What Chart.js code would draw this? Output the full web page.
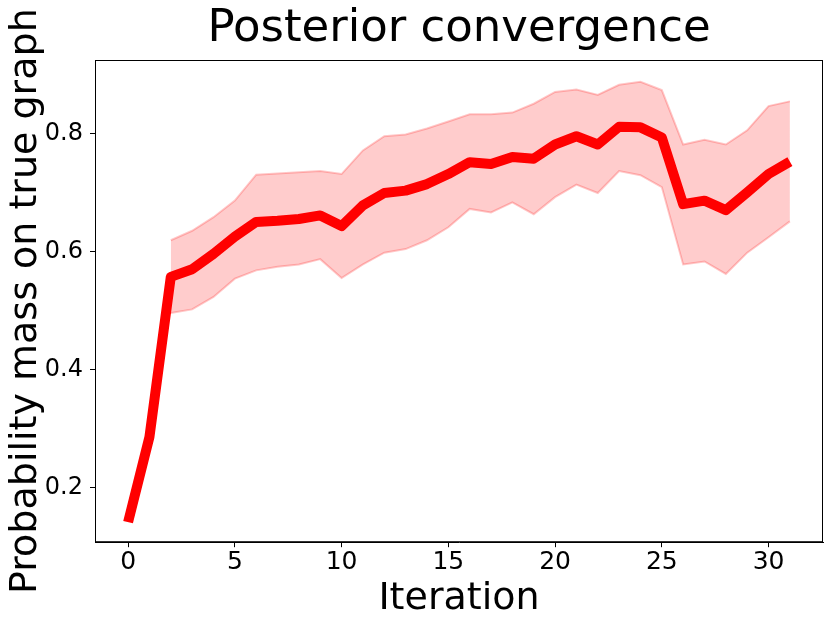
<!DOCTYPE html>
<html>
<head>
<meta charset="utf-8">
<script src="https://cdn.jsdelivr.net/npm/chart.js@4"></script>
<style>
html,body{margin:0;padding:0;background:#fff;}
#wrap{width:830px;height:620px;position:relative;}
</style>
</head>
<body>
<div id="wrap"><canvas id="c" width="830" height="620"></canvas></div>
<script>
const iterations = [0,1,2,3,4,5,6,7,8,9,10,11,12,13,14,15,16,17,18,19,20,21,22,23,24,25,26,27,28,29,30,31];
const meanMass = [0.142,0.286,0.557,0.570,0.596,0.625,0.650,0.652,0.655,0.661,0.643,0.678,0.699,0.703,0.714,0.731,0.751,0.748,0.760,0.757,0.781,0.795,0.781,0.811,0.810,0.793,0.680,0.686,0.670,0.700,0.731,0.752];
const upperMass = [null,null,0.619,0.635,0.658,0.686,0.730,0.732,0.734,0.736,0.731,0.771,0.795,0.798,0.808,0.820,0.832,0.832,0.835,0.850,0.870,0.874,0.865,0.882,0.887,0.873,0.781,0.789,0.781,0.805,0.846,0.854];
const lowerMass = [null,null,0.496,0.502,0.523,0.554,0.568,0.574,0.578,0.587,0.555,0.578,0.598,0.604,0.619,0.641,0.672,0.666,0.683,0.663,0.692,0.713,0.699,0.736,0.729,0.709,0.578,0.583,0.562,0.598,0.624,0.651];
const xTicks = [0,5,10,15,20,25,30];
const yTicks = [0.2,0.4,0.6,0.8];

const pts = a => iterations.map((x,i)=>({x:x,y:a[i]}));

const framePlugin = {
  id:'frame',
  afterDraw(chart){
    const {ctx, chartArea:a} = chart;
    ctx.save();
    ctx.strokeStyle = '#000';
    ctx.lineWidth = 1;
    ctx.strokeRect(a.left+0.5, a.top+0.5, a.right-a.left-1, a.bottom-a.top-1);
    ctx.restore();
  }
};

const font = 'DejaVu Sans';
new Chart(document.getElementById('c'), {
  type:'line',
  data:{
    datasets:[
      {label:'mean', data:pts(meanMass), borderColor:'#ff0000', borderWidth:10, pointRadius:0, fill:false, borderCapStyle:'butt', borderJoinStyle:'round', order:0},
      {label:'lower', data:pts(lowerMass), borderColor:'rgba(255,0,0,0.22)', borderWidth:2, pointRadius:0, fill:false, order:1, spanGaps:false},
      {label:'upper', data:pts(upperMass), borderColor:'rgba(255,0,0,0.22)', borderWidth:2, pointRadius:0, fill:1, backgroundColor:'rgba(255,0,0,0.2)', order:2, spanGaps:false}
    ]
  },
  options:{
    responsive:false,
    animation:false,
    layout:{padding:{left:5,right:7,top:0,bottom:0}},
    plugins:{
      legend:{display:false},
      tooltip:{enabled:false},
      title:{display:true, fullSize:false, text:'Posterior convergence', color:'#000', font:{family:font,size:45,weight:'normal',lineHeight:1.2}, padding:{top:2,bottom:4}},
      filler:{propagate:false}
    },
    scales:{
      x:{
        type:'linear', min:-1.55, max:32.55,
        afterBuildTicks(s){ s.ticks = xTicks.map(v=>({value:v})); },
        ticks:{color:'#000', font:{family:font,size:25,lineHeight:1.0}, padding:3, maxRotation:0, callback:v=>String(v)},
        grid:{display:true, drawOnChartArea:false, drawTicks:true, tickLength:5, color:'#000'},
        border:{display:true,color:'#000'},
        title:{display:true, text:'Iteration', color:'#000', font:{family:font,size:38,lineHeight:1.1}, padding:{top:0,bottom:0}}
      },
      y:{
        type:'linear', min:0.108, max:0.924,
        afterBuildTicks(s){ s.ticks = yTicks.map(v=>({value:v})); },
        afterFit(s){ s.width = 90; },
        ticks:{color:'#000', font:{family:font,size:24}, padding:7, callback:v=>v.toFixed(1)},
        grid:{display:true, drawOnChartArea:false, drawTicks:true, tickLength:5, color:'#000'},
        border:{display:true,color:'#000'},
        title:{display:true, text:'Probability mass on true graph', color:'#000', font:{family:font,size:38,lineHeight:1.1}, padding:{top:0,bottom:1}}
      }
    }
  },
  plugins:[framePlugin]
});
</script>
</body>
</html>
